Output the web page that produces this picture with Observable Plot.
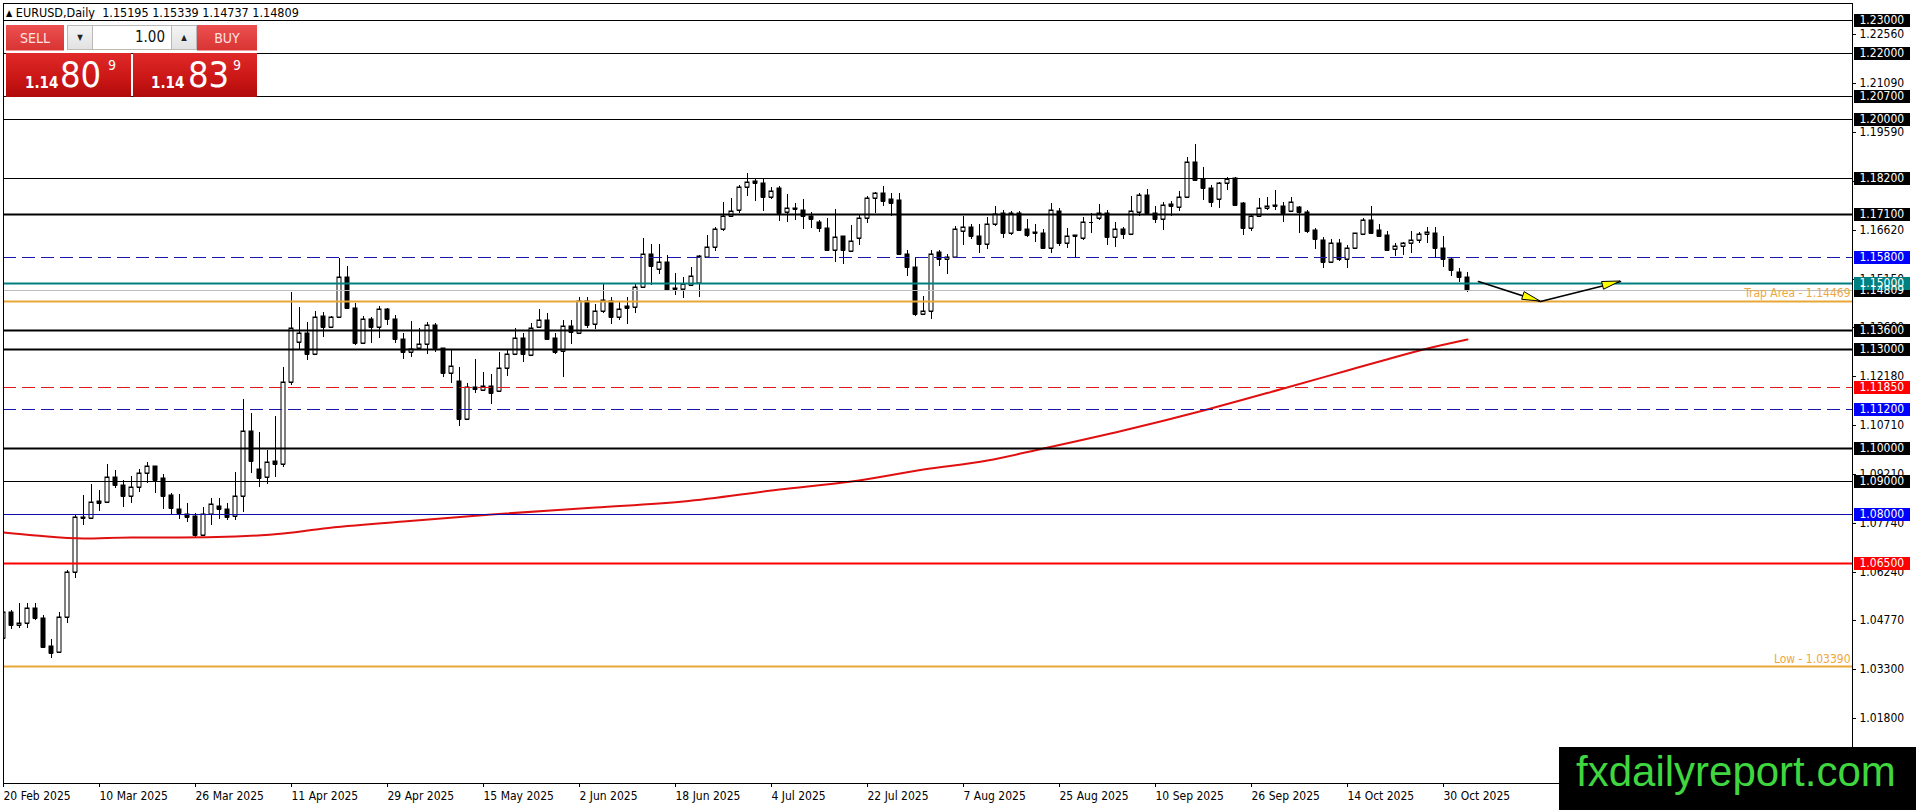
<!DOCTYPE html>
<html>
<head>
<meta charset="utf-8">
<script src="https://cdn.jsdelivr.net/npm/d3@7"></script>
<script src="https://cdn.jsdelivr.net/npm/@observablehq/plot@0.6"></script>
<style>
html,body{margin:0;padding:0;background:#fff;width:1916px;height:810px;overflow:hidden;}
#wrap{position:relative;width:1916px;height:810px;}
#chart svg{display:block;}
#chart svg text{font-stretch:condensed;}
.cond{font-family:"DejaVu Sans Condensed","DejaVu Sans",sans-serif;font-stretch:condensed;}
#hdr{position:absolute;left:6px;top:6.5px;font-size:12.5px;line-height:12px;white-space:pre;color:#000;}
#hdr .tri{font-size:9px;position:relative;top:-1px;}
.abs{position:absolute;box-sizing:border-box;}
.topbtn{top:25px;height:26px;background:linear-gradient(#ec5050,#d93434);color:#ffe2e2;font-size:14px;line-height:26px;text-align:center;border-bottom:1px solid #f39a9a;}
.spin{top:25px;height:25px;background:linear-gradient(#f4f4f4,#e2e2e2);border:1px solid #b9b9b9;font-size:8px;line-height:23px;text-align:center;color:#222;}
.spinin{top:25px;height:25px;background:#fff;border-top:1px solid #b9b9b9;border-bottom:1px solid #b9b9b9;font-size:15px;line-height:23px;text-align:right;padding-right:6px;color:#111;}
.pricebox{top:53px;height:44px;background:linear-gradient(#e02a2a 0%,#cc1717 55%,#b10a0a 100%);color:#fff;}
.pricebox span{position:absolute;white-space:nowrap;}
.p-small{font-size:15px;line-height:15px;font-weight:bold;top:22.5px;}
.p-big{font-size:36px;line-height:36px;top:3.8px;}
.p-sup{font-size:14px;line-height:14px;top:5.4px;}
#wm{left:1559px;top:747px;width:357px;height:63px;background:#000;}
#wm span{position:absolute;left:17px;top:4.4px;font-family:"Liberation Sans",Arial,sans-serif;font-size:42px;line-height:42px;color:#3fd63f;white-space:nowrap;}
</style>
</head>
<body>
<div id="wrap">
  <div id="chart"></div>
  <div id="hdr" class="cond"></div>
  <div class="abs topbtn cond" style="left:6px;width:58px;">SELL</div>
  <div class="abs spin cond" style="left:67px;width:26px;">▼</div>
  <div class="abs spinin cond" id="lots" style="left:93px;width:78px;"></div>
  <div class="abs spin cond" style="left:171px;width:26px;">▲</div>
  <div class="abs topbtn cond" style="left:197px;width:60px;">BUY</div>
  <div class="abs pricebox cond" id="sellBox" style="left:6px;width:125px;"></div>
  <div class="abs pricebox cond" id="buyBox" style="left:133px;width:124px;"></div>
  <div class="abs" id="wm"><span>fxdailyreport.com</span></div>
</div>
<script>
// ---------------- data ----------------
const symbol = "EURUSD";
const timeframe = "Daily";
const bid = 1.14809;
const ask = 1.14839;
const lotSize = "1.00";
const watermark = "fxdailyreport.com";

// daily candles, bar 0 = 20 Feb 2025 ... bar 183 = 4 Nov 2025
const openP = [
1.0422,1.0503,1.0463,1.0468,1.0513,1.0483,1.0399,1.0380,1.0486,1.0625,
1.0790,1.0787,1.0840,1.0835,1.0911,1.0888,1.0853,1.0881,1.0923,1.0946,
1.0908,1.0858,1.0814,1.0800,1.0794,1.0736,1.0799,1.0823,1.0816,1.0794,
1.0853,1.1053,1.0936,1.0913,1.0961,1.0951,1.1202,1.1321,1.1351,1.1285,
1.1401,1.1369,1.1399,1.1519,1.1425,1.1320,1.1391,1.1367,1.1421,1.1391,
1.1330,1.1293,1.1305,1.1315,1.1373,1.1303,1.1227,1.1204,1.1087,1.1187,
1.1177,1.1190,1.1173,1.1242,1.1285,1.1333,1.1283,1.1367,1.1389,1.1333,
1.1295,1.1372,1.1349,1.1447,1.1376,1.1417,1.1447,1.1397,1.1430,1.1428,
1.1490,1.1588,1.1543,1.1564,1.1485,1.1482,1.1496,1.1500,1.1581,1.1612,
1.1664,1.1705,1.1723,1.1792,1.1811,1.1804,1.1761,1.1789,1.1716,1.1728,
1.1723,1.1705,1.1688,1.1667,1.1602,1.1644,1.1600,1.1637,1.1698,1.1758,
1.1774,1.1755,1.1753,1.1589,1.1549,1.1406,1.1417,1.1594,1.1573,1.1581,
1.1660,1.1670,1.1644,1.1619,1.1681,1.1715,1.1652,1.1713,1.1664,1.1657,
1.1654,1.1609,1.1721,1.1622,1.1645,1.1637,1.1686,1.1698,1.1715,1.1642,
1.1664,1.1650,1.1718,1.1768,1.1713,1.1696,1.1741,1.1733,1.1763,1.1870,
1.1816,1.1791,1.1755,1.1806,1.1819,1.1743,1.1669,1.1705,1.1730,1.1736,
1.1735,1.1721,1.1731,1.1718,1.1662,1.1632,1.1566,1.1622,1.1574,1.1609,
1.1649,1.1693,1.1662,1.1647,1.1604,1.1614,1.1622,1.1632,1.1649,1.1654,
1.1607,1.1573,1.1534,1.15195];
const highP = [
1.0507,1.0508,1.0531,1.0531,1.0531,1.0493,1.0419,1.0503,1.0630,1.0800,
1.0858,1.0890,1.0874,1.0952,1.0933,1.0903,1.0915,1.0935,1.0957,1.0946,
1.0921,1.0863,1.0860,1.0832,1.0804,1.0820,1.0847,1.0849,1.0832,1.0928,
1.1148,1.1108,1.1050,1.0994,1.1097,1.1245,1.1475,1.1427,1.1384,1.1417,
1.1414,1.1401,1.1578,1.1553,1.1442,1.1401,1.1399,1.1430,1.1424,1.1404,
1.1349,1.1385,1.1364,1.1384,1.1379,1.1303,1.1298,1.1247,1.1199,1.1270,
1.1232,1.1224,1.1291,1.1298,1.1364,1.1349,1.1379,1.1421,1.1409,1.1349,
1.1389,1.1389,1.1458,1.1458,1.1438,1.1497,1.1460,1.1445,1.1460,1.1500,
1.1637,1.1619,1.1619,1.1586,1.1533,1.1521,1.1551,1.1586,1.1647,1.1672,
1.1748,1.1758,1.1799,1.1834,1.1816,1.1816,1.1792,1.1796,1.1771,1.1743,
1.1755,1.1718,1.1693,1.1698,1.1725,1.1644,1.1677,1.1708,1.1766,1.1779,
1.1796,1.1774,1.1776,1.1603,1.1576,1.1463,1.1601,1.1601,1.1589,1.1674,
1.1705,1.1682,1.1680,1.1703,1.1735,1.1723,1.1720,1.1720,1.1697,1.1680,
1.1664,1.1745,1.1728,1.1669,1.1647,1.1701,1.1715,1.1741,1.1723,1.1688,
1.1672,1.1766,1.1774,1.1786,1.1735,1.1748,1.1751,1.1782,1.1883,1.1923,
1.1853,1.1799,1.1809,1.1822,1.1822,1.1748,1.1708,1.1758,1.1763,1.1784,
1.1748,1.1761,1.1735,1.1723,1.1667,1.1642,1.1634,1.1634,1.1617,1.1654,
1.1698,1.1735,1.1680,1.1660,1.1624,1.1627,1.1660,1.1657,1.1672,1.1670,
1.1644,1.1576,1.1546,1.15339];
const lowP = [
1.0418,1.0450,1.0453,1.0455,1.0478,1.0392,1.0362,1.0379,1.0470,1.0605,
1.0767,1.0784,1.0808,1.0835,1.0878,1.0822,1.0832,1.0868,1.0895,1.0863,
1.0815,1.0799,1.0784,1.0777,1.0731,1.0736,1.0767,1.0786,1.0782,1.0782,
1.0807,1.0925,1.0883,1.0890,1.0913,1.0944,1.1192,1.1298,1.1267,1.1283,
1.1338,1.1366,1.1399,1.1421,1.1313,1.1318,1.1318,1.1333,1.1374,1.1320,
1.1270,1.1278,1.1300,1.1285,1.1293,1.1215,1.1199,1.1068,1.1087,1.1166,
1.1173,1.1133,1.1173,1.1219,1.1283,1.1260,1.1283,1.1367,1.1328,1.1286,
1.1215,1.1315,1.1349,1.1366,1.1361,1.1409,1.1376,1.1389,1.1376,1.1409,
1.1485,1.1495,1.1528,1.1480,1.1465,1.1455,1.1492,1.1458,1.1581,1.1597,
1.1659,1.1703,1.1715,1.1767,1.1751,1.1720,1.1757,1.1691,1.1688,1.1693,
1.1665,1.1669,1.1657,1.1597,1.1566,1.1559,1.1597,1.1617,1.1683,1.1715,
1.1735,1.1705,1.1589,1.1523,1.1402,1.1406,1.1392,1.1553,1.1529,1.1576,
1.1617,1.1634,1.1591,1.1604,1.1675,1.1637,1.1647,1.1659,1.1640,1.1627,
1.1604,1.1591,1.1614,1.1607,1.1579,1.1632,1.1654,1.1693,1.1617,1.1612,
1.1634,1.1647,1.1705,1.1711,1.1685,1.1662,1.1705,1.1721,1.1758,1.1812,
1.1753,1.1733,1.1730,1.1784,1.1735,1.1647,1.1660,1.1703,1.1723,1.1723,
1.1688,1.1718,1.1654,1.1652,1.1604,1.1546,1.1561,1.1569,1.1546,1.1607,
1.1647,1.1650,1.1642,1.1598,1.1583,1.1586,1.1593,1.1622,1.1624,1.1581,
1.1549,1.1523,1.1505,1.14737];
const closeP = [
1.0503,1.0463,1.0468,1.0513,1.0483,1.0397,1.0377,1.0486,1.0625,1.0790,
1.0788,1.0835,1.0834,1.0913,1.0888,1.0853,1.0881,1.0923,1.0947,1.0903,
1.0856,1.0817,1.0802,1.0792,1.0736,1.0799,1.0829,1.0816,1.0792,1.0853,
1.1053,1.0962,1.0910,1.0959,1.0951,1.1202,1.1364,1.1351,1.1285,1.1399,
1.1367,1.1397,1.1519,1.1425,1.1320,1.1391,1.1367,1.1421,1.1391,1.1330,
1.1293,1.1301,1.1315,1.1373,1.1305,1.1227,1.1250,1.1087,1.1187,1.1179,
1.1190,1.1166,1.1242,1.1285,1.1333,1.1285,1.1366,1.1389,1.1332,1.1293,
1.1372,1.1352,1.1447,1.1373,1.1417,1.1450,1.1397,1.1423,1.1425,1.1490,
1.1588,1.1554,1.1564,1.1480,1.1482,1.1497,1.1524,1.1582,1.1612,1.1664,
1.1705,1.1721,1.1792,1.1809,1.1804,1.1761,1.1782,1.1715,1.1728,1.1725,
1.1705,1.1695,1.1667,1.1602,1.1642,1.1602,1.1629,1.1698,1.1758,1.1774,
1.1750,1.1745,1.1589,1.1549,1.1406,1.1417,1.1589,1.1573,1.1581,1.1664,
1.1670,1.1644,1.1619,1.1681,1.1710,1.1652,1.1713,1.1662,1.1647,1.1654,
1.1609,1.1723,1.1622,1.1645,1.1646,1.1686,1.1688,1.1715,1.1642,1.1664,
1.1650,1.1721,1.1768,1.1715,1.1696,1.1738,1.1736,1.1763,1.1870,1.1814,
1.1791,1.1748,1.1806,1.1817,1.1738,1.1669,1.1705,1.1730,1.1736,1.1737,
1.1715,1.1746,1.1718,1.1660,1.1634,1.1566,1.1624,1.1574,1.1609,1.1652,
1.1693,1.1654,1.1644,1.1601,1.1614,1.1622,1.1632,1.1649,1.1655,1.1607,
1.1573,1.1541,1.1520,1.14809];

// moving average read at sample bars
const maIndex = [0,4,10,16,22,29,35,40,50,61,74,85,97,106,115,123,130,140,150,160,168,172,178,183];
const maValue = [1.0744,1.0736,1.0728,1.0731,1.0731,1.0734,1.0741,1.0756,1.0780,1.0800,1.0820,1.0840,1.0875,1.0900,1.0936,1.0963,1.1000,1.1056,1.1116,1.1182,1.1236,1.1264,1.1303,1.1331];

// x axis ticks (bar index) and labels
const xTickIndex = [0,12,24,36,48,60,72,84,96,108,120,132,144,156,168,180];
const xTickLabels = ["20 Feb 2025","10 Mar 2025","26 Mar 2025","11 Apr 2025","29 Apr 2025","15 May 2025","2 Jun 2025","18 Jun 2025","4 Jul 2025","22 Jul 2025","7 Aug 2025","25 Aug 2025","10 Sep 2025","26 Sep 2025","14 Oct 2025","30 Oct 2025"];

// price axis ticks
const yTickValues = [1.22560,1.21090,1.19590,1.18120,1.16620,1.15150,1.13680,1.12180,1.10710,1.09210,1.07740,1.06240,1.04770,1.03300,1.01800];

// horizontal levels
const levelPrice = [1.23000,1.22000,1.20700,1.20000,1.18200,1.17100,1.15800,1.15000,1.13600,1.13000,1.11850,1.11200,1.10000,1.09000,1.08000,1.06500];
const levelColor = ["#000","#000","#000","#000","#000","#000","#1818a8","#008080","#000","#000","#e01818","#1818a8","#000","#000","#1010a8","#ff0000"];
const levelWidth = [1,1,1,1,1,2,1,2,2,2,1,1,2,1,1,2];
const levelDash = [null,null,null,null,null,null,"13,6",null,null,null,"13,6","13,6",null,null,null,null];
const levelLabelBg = ["#000","#000","#000","#000","#000","#000","#0000ff","#008080","#000","#000","#ff0000","#0000ff","#000","#000","#0000ff","#ff0000"];

const trapPrice = 1.14469;
const trapText = "Trap Area - 1.14469";
const lowPrice = 1.03390;
const lowText = "Low - 1.03390";

// projected path (bar index, price)
const pathIndex = [184.4, 192.1, 202.1];
const pathPrice = [1.1507, 1.14469, 1.1506];

// ---------------- build ----------------
const candles = openP.map((o, i) => ({i, open: o, high: highP[i], low: lowP[i], close: closeP[i]}));
const bull = candles.filter(d => d.close >= d.open);
const bear = candles.filter(d => d.close < d.open);
const ma = maIndex.map((i, k) => ({i, v: maValue[k]}));
const levels = levelPrice.map((p, k) => ({price: p, color: levelColor[k], width: levelWidth[k], dash: levelDash[k], bg: levelLabelBg[k]}));
const labelled = [{price: bid, bg: "#000"}, ...levels.filter(l => l.price !== 1.15), ...levels.filter(l => l.price === 1.15)];
const pathPts = pathIndex.map((i, k) => ({i, p: pathPrice[k]}));
const xLabel = new Map(xTickIndex.map((i, k) => [i, xTickLabels[k]]));

const FONT = '"DejaVu Sans Condensed","DejaVu Sans",sans-serif';
const W = 1916, H = 810, mL = 3, mT = 3, mR = 64, mB = 27;
const pxPerBar = 8, pxPerPrice = 3293, refPrice = 1.23, refY = 20;
const xDomain = [0, (W - mR - mL) / pxPerBar];
const yDomain = [refPrice - (H - mB - refY) / pxPerPrice, refPrice + (refY - mT) / pxPerPrice];

function labelBoxes(index, scales, values, dims) {
  const g = d3.create("svg:g");
  const x0 = dims.width - dims.marginRight + 2;
  for (const l of labelled) {
    g.append("rect").attr("x", x0).attr("y", Math.round(scales.y(l.price)) - 6)
      .attr("width", 56).attr("height", 13).attr("fill", l.bg);
  }
  return g.node();
}
function arrowHeads(index, scales) {
  const g = d3.create("svg:g");
  for (let k = 1; k < pathPts.length; k++) {
    const x0 = scales.x(pathPts[k-1].i), y0 = scales.y(pathPts[k-1].p);
    const x1 = scales.x(pathPts[k].i), y1 = scales.y(pathPts[k].p);
    const a = Math.atan2(y1 - y0, x1 - x0), L = 18, Wd = 4;
    const bx = x1 - L * Math.cos(a), by = y1 - L * Math.sin(a);
    const px = -Math.sin(a) * Wd, py = Math.cos(a) * Wd;
    g.append("path").attr("d", `M${x1},${y1}L${bx+px},${by+py}L${bx-px},${by-py}Z`)
      .attr("fill", "#ffff00").attr("stroke", "#000").attr("stroke-width", 1);
  }
  return g.node();
}

const levelMarks = levels.map(l => Plot.ruleY([l.price], {stroke: l.color, strokeWidth: l.width, strokeDasharray: l.dash || undefined}));

const chart = Plot.plot({
  width: W, height: H,
  marginTop: mT, marginRight: mR, marginBottom: mB, marginLeft: mL,
  style: {fontFamily: FONT, fontSize: "12px", background: "transparent", overflow: "visible", color: "#000"},
  x: {type: "linear", domain: xDomain, round: true},
  y: {type: "linear", domain: yDomain, round: true},
  marks: [
    Plot.ruleX(candles, {x: "i", y1: "low", y2: "high", stroke: "#000", clip: true}),
    Plot.rect(bull, {x1: d => d.i - 0.25, x2: d => d.i + 0.25, y1: "open", y2: "close", fill: "#fff", stroke: "#000", clip: true}),
    Plot.rect(bear, {x1: d => d.i - 0.25, x2: d => d.i + 0.25, y1: "open", y2: "close", fill: "#000", stroke: "#000", clip: true}),
    Plot.ruleY(candles, {x1: d => d.i - 0.25, x2: d => d.i + 0.25, y: "open", stroke: "#000", clip: true}),
    Plot.ruleY(candles, {x1: d => d.i - 0.25, x2: d => d.i + 0.25, y: "close", stroke: "#000", clip: true}),
    Plot.line(ma, {x: "i", y: "v", stroke: "#e01010", strokeWidth: 2, curve: "monotone-x", clip: true}),
    ...levelMarks,
    Plot.ruleY([bid], {stroke: "#bdbdbd"}),
    Plot.ruleY([trapPrice], {stroke: "#e8a838", strokeWidth: 2}),
    Plot.ruleY([lowPrice], {stroke: "#e8a838", strokeWidth: 2}),
    Plot.text([trapPrice], {y: d => d, text: () => trapText, frameAnchor: "right", textAnchor: "end", dx: -2, dy: -8, fill: "#eea73e", fontSize: 12}),
    Plot.text([lowPrice], {y: d => d, text: () => lowText, frameAnchor: "right", textAnchor: "end", dx: -2, dy: -7, fill: "#eea73e", fontSize: 12}),
    Plot.line(pathPts, {x: "i", y: "p", stroke: "#000", strokeWidth: 1.7}),
    arrowHeads,
    Plot.axisX(xTickIndex, {anchor: "bottom", tickSize: 4, tickPadding: 4, tickFormat: d => xLabel.get(d), textAnchor: "start", fontSize: 12, label: null}),
    Plot.axisY(yTickValues, {anchor: "right", tickSize: 3, tickPadding: 4, tickFormat: d => d.toFixed(5), fontSize: 12, label: null}),
    labelBoxes,
    Plot.text(labelled, {y: "price", text: d => d.price.toFixed(5), frameAnchor: "right", textAnchor: "start", dx: 7, fill: "#fff", fontSize: 12}),
    Plot.frame({stroke: "#000"})
  ]
});
document.getElementById("chart").append(chart);

// header & trading panel text
const last = candles[candles.length - 1];
document.getElementById("hdr").innerHTML =
  `<span class="tri">▲</span> ${symbol},${timeframe}  ${last.open.toFixed(5)} ${last.high.toFixed(5)} ${last.low.toFixed(5)} ${last.close.toFixed(5)}`;
document.getElementById("lots").textContent = lotSize;
function fillPrice(id, value, lefts) {
  const s = value.toFixed(5);
  const box = document.getElementById(id);
  box.innerHTML = `<span class="p-small" style="left:${lefts[0]}px">${s.slice(0,4)}</span><span class="p-big" style="left:${lefts[1]}px">${s.slice(4,6)}</span><span class="p-sup" style="left:${lefts[2]}px">${s.slice(6)}</span>`;
}
fillPrice("sellBox", bid, [19, 54, 102]);
fillPrice("buyBox", ask, [18, 55, 100]);
document.querySelector("#wm span").textContent = watermark;
</script>
</body>
</html>
